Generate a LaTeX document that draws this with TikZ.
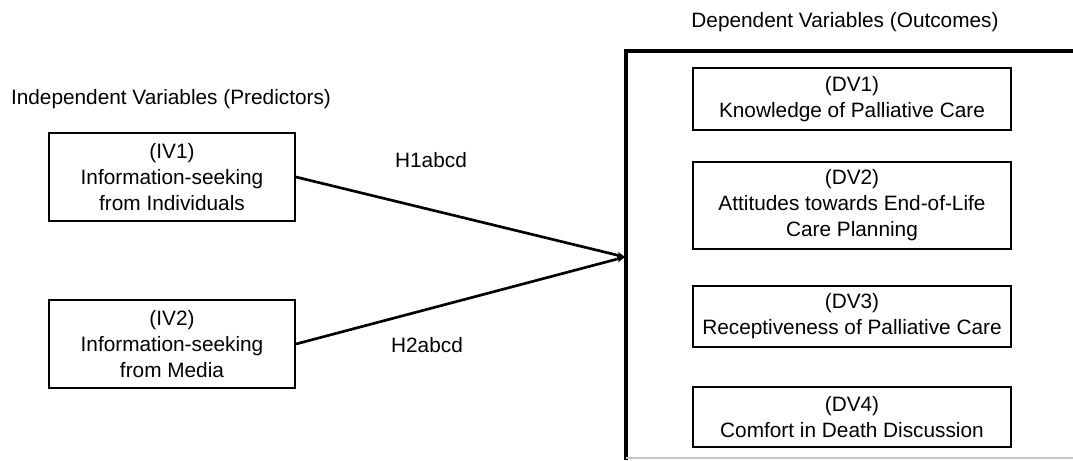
\documentclass[tikz,border=0pt]{standalone}
\usepackage{fontspec}
\setmainfont{Liberation Sans}
\usetikzlibrary{positioning, arrows.meta}
\newcommand\varfont{\fontsize{15.6}{19.5}\selectfont}
\tikzset{
  >={Stealth[length=6pt,width=5pt]},
  title/.style={font=\varfont, inner sep=0pt},
  hyp/.style={font=\varfont, inner sep=0pt},
  ivbox/.style={draw, line width=1.4pt, align=center, font=\varfont,
                inner sep=0pt, minimum width=184.5pt, minimum height=66pt},
  dvbox/.style={draw, line width=1.4pt, align=center, font=\varfont,
                inner sep=0pt, minimum width=238.5pt},
  frame/.style={line width=3pt},
  link/.style={->, line width=2pt},
}

\begin{document}
\begin{tikzpicture}[x=0.75pt, y=-0.75pt]
      \useasboundingbox (0,0) rectangle (1073,460);

      % titles
      \node[title] (ivtitle) at (171,99) {Independent Variables (Predictors)};
      \node[title] (dvtitle) at (845,22) {Dependent Variables (Outcomes)};

      % predictors
      \node[ivbox] (iv1) at (172,177) {(IV1)\\Information-seeking\\from Individuals};
      \node[ivbox] (iv2) at (172,344) {(IV2)\\Information-seeking\\from Media};

      % outcomes
      \draw[frame] (626,460) -- (626,51) -- (1073,51);
      \draw[gray!45, line width=0.8pt] (626,458) -- (1073,458);
      \coordinate (hub) at (625,257);

      \node[dvbox, minimum height=46.5pt]  (dv1) at (852,99)    {(DV1)\\Knowledge of Palliative Care};
      \node[dvbox, minimum height=65.25pt] (dv2) at (852,205.5) {(DV2)\\Attitudes towards End-of-Life\\Care Planning};
      \node[dvbox, minimum height=45.75pt] (dv3) at (852,316.5) {(DV3)\\Receptiveness of Palliative Care};
      \node[dvbox, minimum height=45pt]    (dv4) at (852,417)   {(DV4)\\Comfort in Death Discussion};

      % hypotheses
      \draw[link] (iv1.east) -- (hub);
      \draw[link] (iv2.east) -- (hub);
      \node[hyp] (h1) at (431,160) {H1abcd};
      \node[hyp] (h2) at (427,345) {H2abcd};
\end{tikzpicture}
\end{document}
